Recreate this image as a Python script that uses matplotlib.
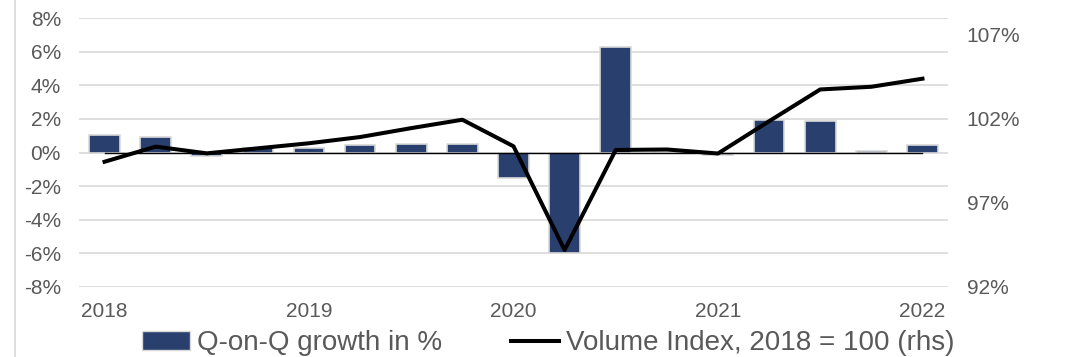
import numpy as np
import matplotlib
matplotlib.use("Agg")
import matplotlib.pyplot as plt
from matplotlib.ticker import FuncFormatter
from matplotlib.lines import Line2D

plt.rcParams["font.family"] = ["Liberation Sans", "DejaVu Sans"]

# ── Data ────────────────────────────────────────────────────────
quarters = ["2018Q1", "2018Q2", "2018Q3", "2018Q4",
            "2019Q1", "2019Q2", "2019Q3", "2019Q4",
            "2020Q1", "2020Q2", "2020Q3", "2020Q4",
            "2021Q1", "2021Q2", "2021Q3", "2021Q4", "2022Q1"]
qoq_growth = [1.07, 0.91, -0.18, 0.25, 0.24, 0.42, 0.52, 0.48,
              -1.50, -6.00, 6.27, 0.03, -0.15, 1.95, 1.86, 0.10, 0.45]
volume_index = [99.45, 100.35, 99.95, 100.25, 100.55, 100.92, 101.45, 101.95,
                100.37, 94.20, 100.15, 100.18, 99.94, 101.86, 103.75, 103.91, 104.39]
tick_labels = ["2018", "2019", "2020", "2021", "2022"]

bar_color = "#293f6e"
grey_text = "#595959"

# ── Figure ──────────────────────────────────────────────────────
fig = plt.figure(figsize=(10.71, 3.57), dpi=100)
ax = fig.add_axes([79 / 1071, 1 - 287 / 357, (948 - 79) / 1071, (287 - 18) / 357])
ax2 = ax.twinx()

x = np.arange(len(quarters))
ax.bar(x, qoq_growth, width=0.6, color=bar_color, edgecolor="#d9d9d9",
       linewidth=1.2, zorder=2)
ax.plot([x[0], x[-1]], [0, 0], color="black", linewidth=1, zorder=3)

ax.set_xlim(-0.5, len(quarters) - 0.5)
ax.set_ylim(-8, 8)
ax.set_yticks(np.arange(-8, 9, 2))
ax.yaxis.set_major_formatter(FuncFormatter(lambda v, p: f"{v:.0f}%"))
ax.set_xticks(x[::4])
ax.set_xticklabels(tick_labels)
ax.grid(axis="y", color="#d9d9d9", linewidth=1.2, zorder=0)
ax.set_axisbelow(True)

ax2.plot(x, volume_index, color="black", linewidth=2.9, zorder=4)
ax2.set_ylim(92, 108)
ax2.set_yticks([92, 97, 102, 107])
ax2.yaxis.set_major_formatter(FuncFormatter(lambda v, p: f"{v:.0f}%"))

for a in (ax, ax2):
    for s in a.spines.values():
        s.set_visible(False)
    a.tick_params(length=0, labelsize=15, colors=grey_text)
ax.tick_params(axis="y", pad=13)
ax.tick_params(axis="x", pad=11)
ax2.tick_params(axis="y", pad=13.5)

# left border line
fig.add_artist(Line2D([15 / 1071, 15 / 1071], [0, 1], color="#d9d9d9", linewidth=1.2))

# ── Legend ──────────────────────────────────────────────────────
handles = [plt.Rectangle((0, 0), 1, 1, facecolor=bar_color, edgecolor="#d9d9d9"),
           Line2D([0], [0], color="black", linewidth=2.9)]
labels = ["Q-on-Q growth in %", "Volume Index, 2018 = 100 (rhs)"]
leg = fig.legend(handles, labels, loc="lower center", ncol=2, frameon=False,
                 bbox_to_anchor=(0.512, -0.068), fontsize=20, handlelength=1.73,
                 handletextpad=0.25, columnspacing=2.5)
for t in leg.get_texts():
    t.set_color(grey_text)

plt.savefig("out.png", dpi=100)
